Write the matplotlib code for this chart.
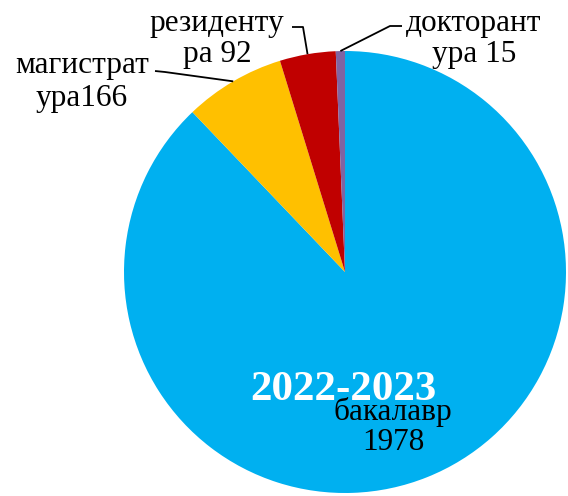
import numpy as np
import matplotlib
matplotlib.use("Agg")
import matplotlib.pyplot as plt

categories = ["бакалавр", "магистратура", "резидентура", "докторантура"]
values = [1978, 166, 92, 15]
labels = ["бакалавр\n1978", "магистрат\nура166", "резиденту\nра 92", "докторант\nура 15"]
colors = ["#00B0F0", "#FFC000", "#C00000", "#8064A2"]
title = "2022-2023"

W, H = 568, 496
CX, CY, R = 345, 272, 221

def px(x, y):
    return (x - CX) / R, (CY - y) / R

fig = plt.figure(figsize=(W / 100, H / 100), dpi=100)
ax = fig.add_axes([0, 0, 1, 1])
ax.axis("off")

wedges, _ = ax.pie(values, colors=colors, startangle=90, counterclock=False,
                   radius=1.0, center=(0, 0), wedgeprops=dict(linewidth=0))
ax.set_aspect("equal")
ax.set_xlim(-CX / R, (W - CX) / R)
ax.set_ylim((CY - H) / R, CY / R)

font = "Liberation Serif"
label_pos = [(393, 427), (82, 82), (217, 39), (474, 39)]
linesp = [1.05, 1.2, 1.05, 1.05]
elbows = [None, [(155, 71), (165, 72)], [(292, 27), (303, 27)], [(402, 26), (390, 26)]]

for i, w in enumerate(wedges):
    x, y = px(*label_pos[i])
    ax.text(x, y, labels[i], ha="center", va="center", fontsize=22.5,
            family=font, color="black", linespacing=linesp[i])
    if elbows[i] is not None:
        mid = np.deg2rad((w.theta1 + w.theta2) / 2)
        ex, ey = np.cos(mid), np.sin(mid)
        pts = [px(*p) for p in elbows[i]] + [(ex, ey)]
        ax.plot([p[0] for p in pts], [p[1] for p in pts], color="black", lw=1.3,
                solid_capstyle="butt")

tx, ty = px(343, 390)
ax.text(tx, ty, title, ha="center", va="center", fontsize=31, fontweight="bold",
        family=font, color="white")

fig.savefig("out.png", dpi=100)
